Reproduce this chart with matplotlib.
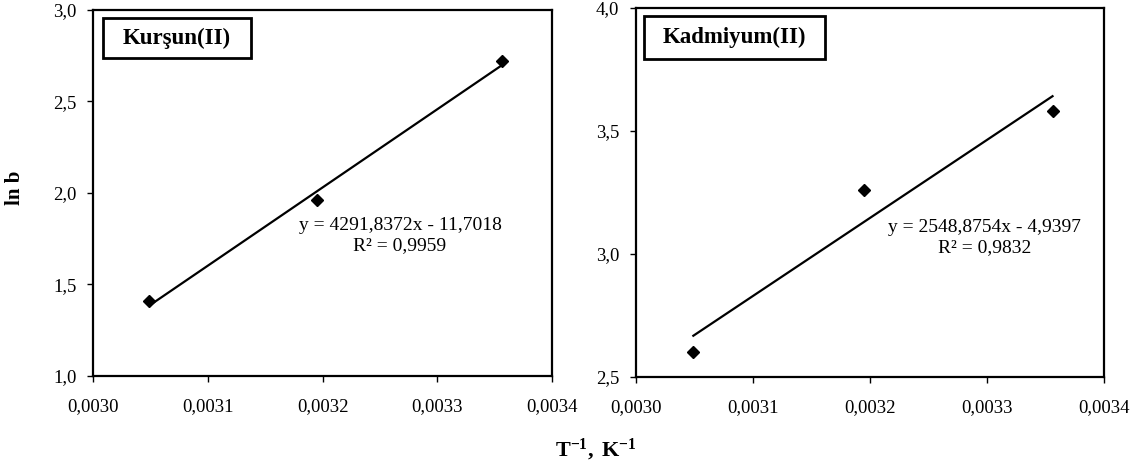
import numpy as np
import matplotlib
matplotlib.use("Agg")
import matplotlib.pyplot as plt
from matplotlib.ticker import FuncFormatter, MultipleLocator
from matplotlib.patches import Rectangle

# Data
inv_T = [0.003049, 0.003195, 0.003356]
lnb_pb = [1.41, 1.96, 2.72]
lnb_cd = [2.60, 3.26, 3.58]
titles = ["Kurşun(II)", "Kadmiyum(II)"]
eq_pb = ["y = 4291,8372x - 11,7018", "R² = 0,9959"]
eq_cd = ["y = 2548,8754x - 4,9397", "R² = 0,9832"]

plt.rcParams['font.family'] = ['Liberation Serif', 'DejaVu Serif']
plt.rcParams['mathtext.fontset'] = 'custom'
plt.rcParams['mathtext.rm'] = 'Liberation Serif'
plt.rcParams['mathtext.bf'] = 'Liberation Serif:bold'
plt.rcParams['mathtext.it'] = 'Liberation Serif:italic'

W, H = 1142, 465
fig = plt.figure(figsize=(W / 100, H / 100), dpi=100)

def ax_at(x0, y0, x1, y1):
    return fig.add_axes([x0 / W, 1 - y1 / H, (x1 - x0) / W, (y1 - y0) / H])

ax1 = ax_at(93, 10, 552, 376)
ax2 = ax_at(636, 8, 1104, 377)

def comma(fmt):
    return FuncFormatter(lambda v, p: (fmt % v).replace('.', ','))

def style(ax, ylim, ystep, box, eq, eqpos, data_y, title):
    ax.set_xlim(0.0030, 0.0034)
    ax.set_ylim(*ylim)
    ax.xaxis.set_major_locator(MultipleLocator(0.0001))
    ax.yaxis.set_major_locator(MultipleLocator(ystep))
    ax.xaxis.set_major_formatter(comma('%.4f'))
    ax.yaxis.set_major_formatter(comma('%.1f'))
    for s in ax.spines.values():
        s.set_linewidth(1.6)
        s.set_color('black')
    ax.tick_params(direction='out', length=4, width=1, labelsize=13.5, colors='black')
    ax.tick_params(axis='x', pad=12)
    ax.tick_params(axis='y', pad=8)
    # trendline from data
    k, b = np.polyfit(inv_T, data_y, 1)
    xs = np.array([inv_T[0], inv_T[-1]])
    ax.plot(xs, k * xs + b, color='black', lw=1.6, zorder=2)
    ax.plot(inv_T, data_y, linestyle='none', marker='D', ms=6.5, color='black', zorder=3)
    # title box
    bx0, by0, bx1, by1 = box
    ax.add_patch(Rectangle((bx0, by0), bx1 - bx0, by1 - by0, transform=ax.transAxes,
                           fill=False, lw=2.0, ec='black', zorder=4))
    ax.text((bx0 + bx1) / 2, (by0 + by1) / 2, title, transform=ax.transAxes,
            ha='center', va='center', fontsize=16.5, fontweight='bold', zorder=5)
    (ex, ey1, ey2) = eqpos
    ax.text(ex, ey1, eq[0], transform=ax.transAxes, ha='center', va='center', fontsize=14)
    ax.text(ex, ey2, eq[1], transform=ax.transAxes, ha='center', va='center', fontsize=14)

style(ax1, (1.0, 3.0), 0.5, (0.022, 0.869, 0.344, 0.978), eq_pb,
      ((400 - 93) / 459, (376 - 225) / 366, (376 - 246) / 366), lnb_pb, titles[0])
style(ax2, (2.5, 4.0), 0.5, (0.017, 0.862, 0.404, 0.978), eq_cd,
      ((985 - 636) / 468, (377 - 227) / 369, (377 - 248) / 369), lnb_cd, titles[1])

fig.text(15 / W, 1 - 188 / H, "ln b", rotation=90, ha='center', va='center',
         fontsize=15, fontweight='bold')
fig.text(596 / W, 1 - 450 / H, r"$\mathbf{T^{-1},\ K^{-1}}$", ha='center', va='center',
         fontsize=16)

fig.savefig("out.png", dpi=100)
